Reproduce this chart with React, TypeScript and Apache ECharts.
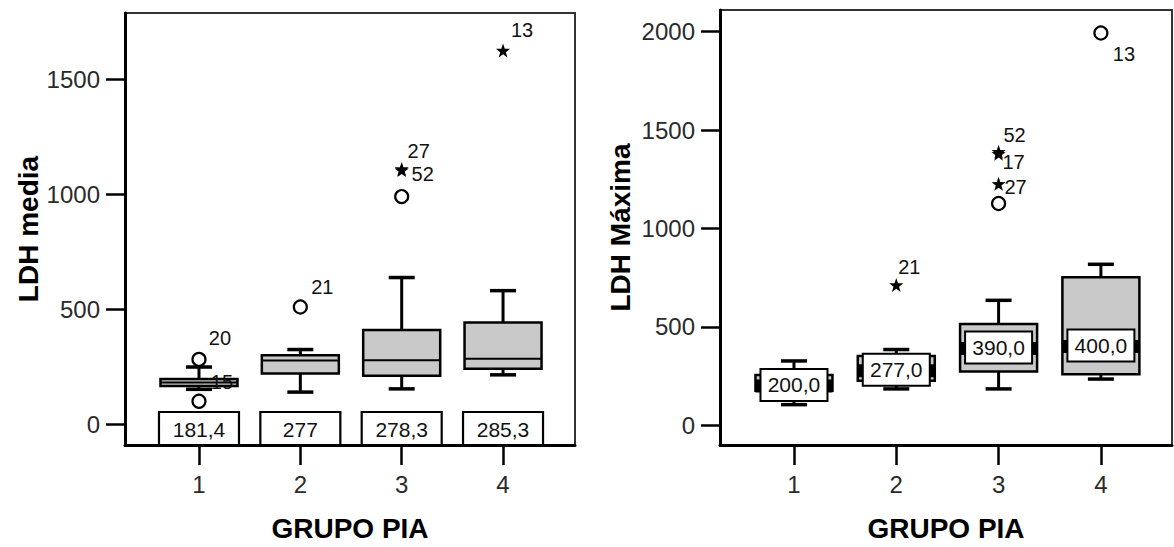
import { useEffect, useRef } from 'react';
import * as echarts from 'echarts';

const FONT = '"Liberation Sans", Arial, sans-serif';

const xTicks = [1, 2, 3, 4];
const groups = [1, 2, 3, 4];

// LDH media by group
const mediaLow = [152, 140, 154, 215];
const mediaQ1 = [167, 221, 211, 242];
const mediaMedian = [181.4, 277, 278.3, 285.3];
const mediaQ3 = [197, 300, 410, 443];
const mediaHigh = [249, 325, 638, 581];
const mediaTicks = [0, 500, 1000, 1500];
const mediaOutGroup = [1, 1, 2, 3, 3, 3, 4];
const mediaOutValue = [282, 100, 510, 990, 1110, 1105, 1625];
const mediaOutCase = ['20', '15', '21', '', '27', '52', '13'];
const mediaOutKind = ['circle', 'circle', 'circle', 'circle', 'star', 'star', 'star'];

// LDH máxima by group
const maxLow = [105, 185, 185, 235];
const maxQ1 = [175, 227, 273, 260];
const maxMedian = [200, 277, 390, 400];
const maxQ3 = [255, 352, 515, 752];
const maxHigh = [327, 385, 635, 818];
const maxTicks = [0, 500, 1000, 1500, 2000];
const maxOutGroup = [2, 3, 3, 3, 3, 4];
const maxOutValue = [713, 1127, 1227, 1380, 1390, 1993];
const maxOutCase = ['21', '', '27', '17', '52', '13'];
const maxOutKind = ['star', 'circle', 'star', 'star', 'star', 'circle'];

// where each case label sits relative to its marker (px)
const mediaLabelOffset: Record<string, number[]> = {
  '20': [21, -21], '15': [23, -19], '21': [22, -20], '27': [17, -18], '52': [21, 4], '13': [19, -20],
};
const maxLabelOffset: Record<string, number[]> = {
  '21': [13, -18], '27': [17, 3], '17': [15, 8], '52': [16, -17], '13': [23, 21],
};

const STAR =
  'path://M0,-10 L2.35,-3.24 L9.51,-3.09 L3.8,1.24 L5.88,8.09 L0,4 L-5.88,8.09 L-3.8,1.24 L-9.51,-3.09 L-2.35,-3.24 Z';

const commaNum = (v: number) => String(v).replace('.', ',');
const commaFixed = (v: number) => v.toFixed(1).replace('.', ',');

function line(x1: number, y1: number, x2: number, y2: number, w: number) {
  return { type: 'line', shape: { x1, y1, x2, y2 }, style: { stroke: '#000', lineWidth: w } };
}

function boxRenderer(kind: 'plain' | 'labelled') {
  return (params: any, api: any) => {
    const x = api.value(0);
    const [cx, yLow] = api.coord([x, api.value(1)]);
    const yQ1 = api.coord([x, api.value(2)])[1];
    const med = api.value(3);
    const yMed = api.coord([x, med])[1];
    const yQ3 = api.coord([x, api.value(4)])[1];
    const yHigh = api.coord([x, api.value(5)])[1];
    const hw = 38.5;
    const cw = 13;
    const children: any[] = [
      line(cx, yQ3, cx, yHigh, 3),
      line(cx, yQ1, cx, yLow, 3),
      line(cx - cw, yHigh, cx + cw, yHigh, 3.5),
      line(cx - cw, yLow, cx + cw, yLow, 3.5),
      {
        type: 'rect',
        shape: { x: cx - hw, y: yQ3, width: hw * 2, height: yQ1 - yQ3 },
        style: { fill: '#c9c9c9', stroke: '#000', lineWidth: 2.5 },
      },
    ];
    if (kind === 'plain') {
      children.push(line(cx - hw, yMed, cx + hw, yMed, 2));
    } else {
      children.push({
        type: 'rect',
        shape: { x: cx - hw, y: yMed - 6.5, width: hw * 2, height: 13 },
        style: { fill: '#000' },
      });
      children.push({
        type: 'rect',
        shape: { x: cx - 33.5, y: yMed - 17, width: 67, height: 32 },
        style: { fill: '#fff', stroke: '#000', lineWidth: 2 },
      });
      children.push({
        type: 'text',
        style: {
          text: commaFixed(med), x: cx, y: yMed - 1, align: 'center', verticalAlign: 'middle',
          fontSize: 21, fontFamily: FONT, fill: '#111',
        },
      });
    }
    return { type: 'group', children };
  };
}

function medianTagRenderer(params: any, api: any) {
  const x = api.value(0);
  const med = api.value(1);
  const cx = api.coord([x, 0])[0];
  const bottom = params.coordSys.y + params.coordSys.height;
  return {
    type: 'group',
    children: [
      {
        type: 'rect',
        shape: { x: cx - 40, y: bottom - 33, width: 80, height: 33 },
        style: { fill: '#fff', stroke: '#000', lineWidth: 2.2 },
      },
      {
        type: 'text',
        style: {
          text: commaNum(med), x: cx, y: bottom - 16, align: 'center', verticalAlign: 'middle',
          fontSize: 21, fontFamily: FONT, fill: '#111',
        },
      },
    ],
  };
}

function outlierSeries(
  g: number[], v: number[], c: string[], k: string[], offsets: Record<string, number[]>, idx: number,
) {
  return {
    type: 'scatter',
    xAxisIndex: idx,
    yAxisIndex: idx,
    z: 5,
    data: v.map((val, i) => ({
      value: [g[i], val],
      symbol: k[i] === 'star' ? STAR : 'circle',
      symbolSize: k[i] === 'star' ? 14 : 13,
      itemStyle:
        k[i] === 'star'
          ? { color: '#000', opacity: 1 }
          : { color: '#fff', borderColor: '#000', borderWidth: 2.2, opacity: 1 },
      label: {
        show: c[i] !== '',
        formatter: c[i],
        position: 'inside',
        offset: offsets[c[i]] || [0, 0],
        fontSize: 20,
        lineHeight: 18,
        fontFamily: FONT,
        color: '#111',
        opacity: 1,
        textBorderWidth: 0,
      },
    })),
  };
}

function xAxis(idx: number, min: number, max: number) {
  return {
    gridIndex: idx,
    type: 'value',
    min,
    max,
    axisLine: { show: true, onZero: false, lineStyle: { color: '#000', width: 3 } },
    axisTick: { show: true, length: 20, customValues: xTicks, lineStyle: { color: '#000', width: 2.5 } },
    axisLabel: {
      customValues: xTicks, margin: 27, fontSize: 24, fontFamily: FONT, color: '#2a2a2a',
      formatter: (v: number) => String(v),
    },
    splitLine: { show: false },
    name: 'GRUPO PIA',
    nameLocation: 'middle',
    nameGap: 69,
    nameTextStyle: { fontSize: 28, fontWeight: 'bold', fontFamily: FONT, color: '#000' },
  };
}

function yAxis(idx: number, min: number, max: number, ticks: number[], name: string, gap: number) {
  return {
    gridIndex: idx,
    type: 'value',
    min,
    max,
    axisLine: { show: true, onZero: false, lineStyle: { color: '#000', width: 3 } },
    axisTick: { show: true, length: 19, customValues: ticks, lineStyle: { color: '#000', width: 2.5 } },
    axisLabel: {
      customValues: ticks, margin: 25, fontSize: 24, fontFamily: FONT, color: '#2a2a2a',
      formatter: (v: number) => String(v),
    },
    splitLine: { show: false },
    name,
    nameLocation: 'middle',
    nameGap: gap,
    nameRotate: 90,
    nameTextStyle: { fontSize: 28, fontWeight: 'bold', fontFamily: FONT, color: '#000' },
  };
}

export default function App() {
  const ref = useRef<HTMLDivElement>(null);

  useEffect(() => {
    if (!ref.current) return;
    const chart = echarts.init(ref.current, undefined, { renderer: 'svg' });

    const mediaBoxes = groups.map((g, i) => [g, mediaLow[i], mediaQ1[i], mediaMedian[i], mediaQ3[i], mediaHigh[i]]);
    const maxBoxes = groups.map((g, i) => [g, maxLow[i], maxQ1[i], maxMedian[i], maxQ3[i], maxHigh[i]]);
    const mediaTags = groups.map((g, i) => [g, mediaMedian[i]]);

    chart.setOption({
      animation: false,
      backgroundColor: '#fff',
      grid: [
        { left: 125, right: 599, top: 13, bottom: 95, show: true, borderColor: '#333', borderWidth: 2 },
        { left: 720, right: 2, top: 10, bottom: 95, show: true, borderColor: '#333', borderWidth: 2 },
      ],
      xAxis: [xAxis(0, 0.27, 4.71), xAxis(1, 0.277, 4.695)],
      yAxis: [
        yAxis(0, -90, 1788, mediaTicks, 'LDH media', 80),
        yAxis(1, -100, 2110, maxTicks, 'LDH Máxima', 86),
      ],
      series: [
        {
          type: 'custom',
          xAxisIndex: 0,
          yAxisIndex: 0,
          renderItem: boxRenderer('plain'),
          data: mediaBoxes,
          encode: { x: 0, y: [1, 2, 3, 4, 5] },
          z: 3,
        },
        {
          type: 'custom',
          xAxisIndex: 0,
          yAxisIndex: 0,
          renderItem: medianTagRenderer,
          data: mediaTags,
          encode: { x: 0, y: 1 },
          clip: false,
          z: 4,
        },
        outlierSeries(mediaOutGroup, mediaOutValue, mediaOutCase, mediaOutKind, mediaLabelOffset, 0),
        {
          type: 'custom',
          xAxisIndex: 1,
          yAxisIndex: 1,
          renderItem: boxRenderer('labelled'),
          data: maxBoxes,
          encode: { x: 0, y: [1, 2, 3, 4, 5] },
          z: 3,
        },
        outlierSeries(maxOutGroup, maxOutValue, maxOutCase, maxOutKind, maxLabelOffset, 1),
      ],
    });

    return () => chart.dispose();
  }, []);

  return (
    <div
      ref={ref}
      style={{ position: 'fixed', left: 0, top: 0, width: 1174, height: 547, background: '#fff' }}
    />
  );
}
